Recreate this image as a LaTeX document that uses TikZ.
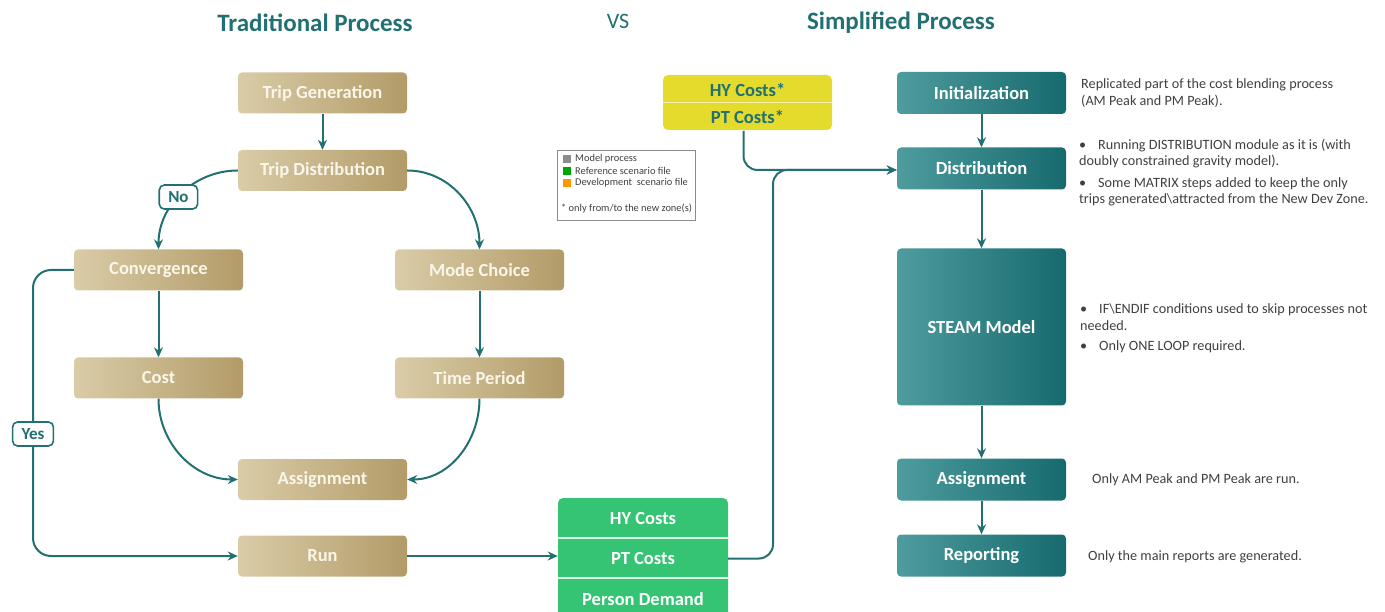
\documentclass[tikz,border=0pt]{standalone}
\usepackage{fontspec}
\setmainfont{Carlito}
\usetikzlibrary{arrows.meta,calc}

\definecolor{teal1}{RGB}{34,112,114}
\definecolor{goldL}{RGB}{218,204,168}
\definecolor{goldR}{RGB}{178,155,104}
\definecolor{tealL}{RGB}{78,156,158}
\definecolor{tealR}{RGB}{22,106,110}
\definecolor{greenbox}{RGB}{52,196,116}
\definecolor{yellowbox}{RGB}{228,219,45}
\definecolor{sidetext}{RGB}{64,64,64}
\definecolor{cream}{RGB}{250,246,234}

\tikzset{
  boxfont/.style={font=\fontsize{18.5}{22}\selectfont\bfseries},
  goldbox/.style={rectangle, rounded corners=4pt, minimum width=169pt, minimum height=41pt,
    left color=goldL, right color=goldR, text=cream, boxfont},
  tealbox/.style={rectangle, rounded corners=4pt, minimum width=169pt, minimum height=42pt,
    left color=tealL, right color=tealR, text=white, boxfont},
  conn/.style={draw=teal1, line width=2pt, -{Stealth[length=10pt,width=9pt]}},
  lab/.style={rectangle, rounded corners=5pt, draw=teal1, line width=1.6pt, fill=white,
    text=teal1, font=\fontsize{17}{20}\selectfont\bfseries, inner xsep=9pt, inner ysep=2pt, minimum height=24pt},
  title/.style={text=teal1, font=\fontsize{25}{30}\selectfont\bfseries},
  row/.style={rectangle, minimum width=170pt, minimum height=40pt, inner sep=0pt, text=white, boxfont},
  yrow/.style={rectangle, minimum width=169pt, minimum height=27.5pt, inner sep=0pt,
    text=teal1, boxfont},
  side/.style={anchor=west, inner sep=0pt, text=sidetext, font=\fontsize{14.2}{17}\selectfont},
  legtxt/.style={anchor=west, inner sep=0pt, text=sidetext, font=\fontsize{10.4}{12}\selectfont},
}

\begin{document}
\begin{tikzpicture}[x=1pt,y=-1pt]
\useasboundingbox (0,0) rectangle (1385,612);

% titles
\node[title] (t1) at (315,23) {Traditional Process};
\node[text=teal1, font=\fontsize{22}{26}\selectfont] (vs) at (618,21) {VS};
\node[title] (t2) at (901,23) {Simplified Process};

% traditional process boxes
\node[goldbox] (tgen)  at (322.5,93)  {Trip Generation};
\node[goldbox] (tdist) at (322.5,170.5) {Trip Distribution};
\node[goldbox] (conv)  at (158.5,270) {Convergence};
\node[goldbox] (mode)  at (479.5,270) {Mode Choice};
\node[goldbox] (cost)  at (158.5,378) {Cost};
\node[goldbox] (tper)  at (479.5,378) {Time Period};
\node[goldbox] (tassign) at (322.5,479.5) {Assignment};
\node[goldbox] (run)   at (322.5,556) {Run};

% traditional process connectors
\draw[conn] (tgen) -- (tdist);
\draw[conn] (tdist.west) to[out=180,in=90] node[lab,pos=0.54] (no) {No} (conv.north);
\draw[conn] (tdist.east) to[out=0,in=90] (mode.north);
\draw[conn] (conv) -- (cost);
\draw[conn] (mode) -- (tper);
\draw[conn] (cost.south) to[out=-90,in=180] (tassign.west);
\draw[conn] (tper.south) to[out=-90,in=0] (tassign.east);
\coordinate (loopTop) at (33,270);
\draw[conn, rounded corners=18pt] (conv.west) -- (loopTop) |- (run.west);
\node[lab] (yes) at (33,434) {Yes};

% reference scenario outputs
\fill[greenbox, rounded corners=5pt] (558,498) rectangle (728,640);
\node[row] (ghy) at (643,518.5) {HY Costs};
\node[row] (gpt) at (643,558.5) {PT Costs};
\node[row] (gpd) at (643,599.5) {Person Demand};
\draw[white!85!greenbox, line width=1.5pt] (643,538) ++(-85,0) -- ++(170,0);
\draw[white!85!greenbox, line width=1.5pt] (643,578) ++(-85,0) -- ++(170,0);
\draw[conn] (run.east) -- (run.east -| gpt.west);

% development scenario costs
\fill[yellowbox, rounded corners=5pt] (663,75) rectangle (832,130);
\node[yrow] (yhy) at (747.5,89.5) {HY Costs*};
\node[yrow] (ypt) at (747.5,117) {PT Costs*};
\draw[white!60!yellowbox, line width=1.3pt] (663,102.5) -- (832,102.5);

% legend
\node[rectangle, draw=black!45, line width=0.6pt, minimum width=138pt, minimum height=70pt, anchor=north west] (legend) at (557,150) {};
\fill[black!45] (563,155) rectangle (571,163);
\node[legtxt] (lg1) at (575,159) {Model process};
\fill[green!65!black] (563,167) rectangle (571,175);
\node[legtxt] (lg2) at (575,171) {Reference scenario file};
\fill[orange!80!yellow] (563,179) rectangle (571,187);
\node[legtxt] (lg3) at (575,183) {Development\ \ scenario file};
\node[legtxt] (lg4) at (561,209) {* only from/to the new zone(s)};

% simplified process boxes
\node[tealbox] (init)   at (981.5,93) {Initialization};
\node[tealbox] (sdist)  at (981.5,168.5)  {Distribution};
\node[tealbox, minimum height=157pt] (steam) at (981.5,327) {STEAM Model};
\node[tealbox] (sassign) at (981.5,479.5) {Assignment};
\node[tealbox] (report) at (981.5,555.5)  {Reporting};

\draw[conn] (init) -- (sdist);
\draw[conn] (sdist) -- (steam);
\draw[conn] (steam) -- (sassign);
\draw[conn] (sassign) -- (report);

% inputs feeding the distribution step
\coordinate (rise) at (773,170);
\draw[conn, rounded corners=14pt] (gpt.east) -| (rise) -- (rise -| sdist.west);
\draw[conn, rounded corners=14pt] ($(ypt.south)+(-4,0)$) |- (rise -| sdist.west);

% notes
\node[side] (n1a) at (1081,85)  {Replicated part of the cost blending process};
\node[side] (n1b) at (1081,101) {(AM Peak and PM Peak).};
\node[side] (n2a) at (1079,146) {\makebox[19pt][l]{•}Running DISTRIBUTION module as it is (with};
\node[side] (n2b) at (1079,162) {doubly constrained gravity model).};
\node[side] (n2c) at (1079,184) {\makebox[19pt][l]{•}Some MATRIX steps added to keep the only};
\node[side] (n2d) at (1079,200) {trips generated\textbackslash attracted from the New Dev Zone.};
\node[side] (n3a) at (1080,310) {\makebox[19pt][l]{•}IF\textbackslash ENDIF conditions used to skip processes not};
\node[side] (n3b) at (1080,326) {needed.};
\node[side] (n3c) at (1080,347) {\makebox[19pt][l]{•}Only ONE LOOP required.};
\node[side] (n4)  at (1092,480) {Only AM Peak and PM Peak are run.};
\node[side] (n5)  at (1088,557) {Only the main reports are generated.};
\end{tikzpicture}
\end{document}
